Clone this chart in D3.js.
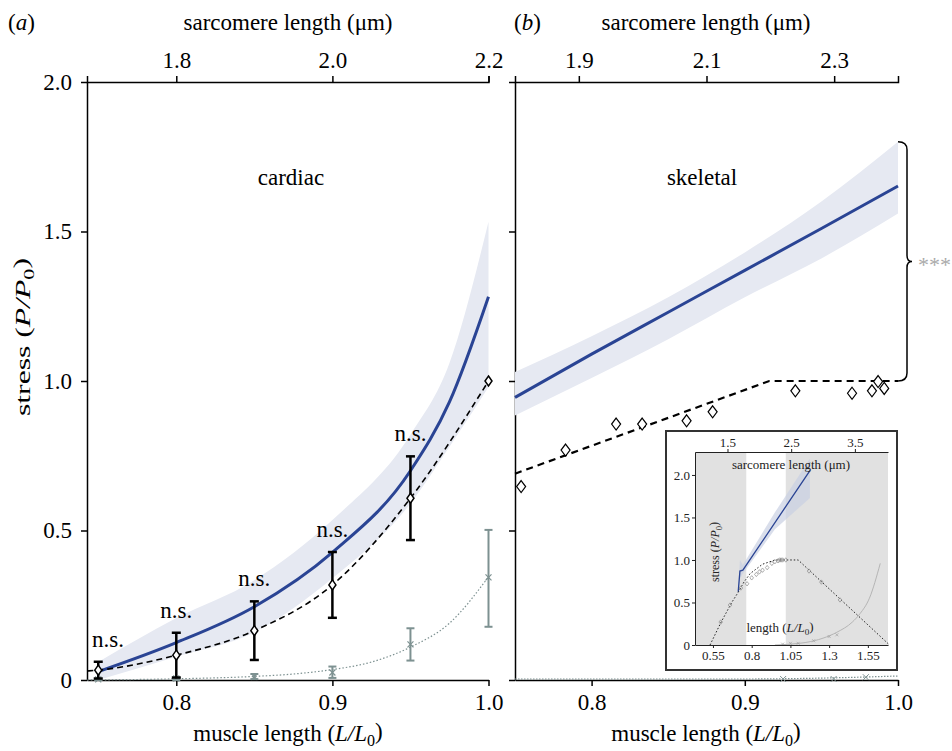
<!DOCTYPE html>
<html>
<head>
<meta charset="utf-8">
<script src="https://cdn.jsdelivr.net/npm/d3@7"></script>
<style>
  body { margin: 0; background: #fff; }
  svg text { font-family: "Liberation Serif", "Tinos", "Times New Roman", "Nimbus Roman", "DejaVu Serif", serif; }
</style>
</head>
<body>
<div id="chart"></div>
<script>
// ---- cardiac (panel a) ----
const cardiacL = [0.75, 0.8, 0.85, 0.9, 0.95, 1.0];
const cardiacActive = [0.033, 0.083, 0.165, 0.318, 0.608, 1.0];
const cardiacActiveErr = [0.028, 0.075, 0.098, 0.11, 0.14, 0];
const cardiacPassive = [0.002, 0.005, 0.011, 0.025, 0.119, 0.343];
const cardiacPassiveLo = [0, 0, 0.003, 0.007, 0.065, 0.178];
const cardiacPassiveHi = [0.004, 0.01, 0.02, 0.045, 0.173, 0.502];
const cardiacFitL = [0.743, 0.75, 0.8, 0.85, 0.9, 0.95, 1.0];
const cardiacFit = [0.03, 0.033, 0.083, 0.165, 0.318, 0.608, 1.0];
const cardiacModelL = [0.75, 0.8, 0.85, 0.9, 0.95, 0.975, 1.0];
const cardiacModel = [0.028, 0.125, 0.245, 0.427, 0.70, 0.93, 1.282];
const cardiacModelLo = [0.0, 0.078, 0.16, 0.34, 0.59, 0.78, 0.98];
const cardiacModelHi = [0.06, 0.207, 0.334, 0.535, 0.82, 1.06, 1.533];
const cardiacPassiveFitL = [0.743, 0.8, 0.85, 0.875, 0.9, 0.925, 0.95, 0.975, 1.0];
const cardiacPassiveFit = [0.0, 0.004, 0.012, 0.02, 0.035, 0.06, 0.11, 0.19, 0.345];
const nsLabels = ["n.s.", "n.s.", "n.s.", "n.s.", "n.s."];

// ---- skeletal (panel b) ----
const skeletalDataL = [0.754, 0.783, 0.816, 0.833, 0.862, 0.879, 0.933, 0.970, 0.983, 0.987, 0.991];
const skeletalData = [0.647, 0.769, 0.856, 0.856, 0.867, 0.897, 0.967, 0.959, 0.967, 0.998, 0.975];
const skeletalFitL = [0.75, 0.916, 1.0];
const skeletalFit = [0.69, 1.0, 1.0];
const skeletalModelL = [0.75, 0.8, 0.85, 0.9, 0.95, 1.0];
const skeletalModel = [0.945, 1.09, 1.23, 1.37, 1.51, 1.652];
const skeletalModelLo = [0.885, 1.01, 1.14, 1.28, 1.41, 1.56];
const skeletalModelHi = [1.03, 1.15, 1.28, 1.43, 1.60, 1.80];
const skeletalPassiveL = [0.75, 0.9, 0.95, 1.0];
const skeletalPassive = [0.0, 0.0, 0.003, 0.01];
const skeletalPassiveMarkL = [0.925, 0.958, 0.979];
const skeletalPassiveMark = [0.0, 0.0, 0.006];
const bracketRange = [1.0, 1.8];

// ---- inset ----
const insetModelL = [0.713, 0.724, 0.743, 1.176];
const insetModel = [0.625, 0.87, 0.88, 2.05];
const insetBandL = [0.713, 0.724, 0.743, 0.95, 1.176];
const insetBandLo = [0.6, 0.78, 0.84, 1.36, 1.73];
const insetBandHi = [0.66, 1.0, 0.94, 1.56, 2.19];
const insetLTL = [0.531, 0.6, 0.671, 0.713, 0.75, 0.79, 0.87, 0.95, 1.1, 1.69];
const insetLT = [0, 0.26, 0.5, 0.62, 0.74, 0.84, 0.95, 1.0, 1.0, 0];
const insetPassiveL = [0.95, 1.05, 1.15, 1.26, 1.35, 1.45, 1.5, 1.56, 1.63];
const insetPassive = [0, 0.01, 0.03, 0.08, 0.15, 0.27, 0.37, 0.55, 0.96];
const insetDataL = [0.6, 0.66, 0.73, 0.77, 0.8, 0.83, 0.85, 0.87, 0.9, 0.93, 0.95, 0.97, 0.98, 0.99, 1.0, 1.02, 1.17, 1.25, 1.37];
const insetData = [0.27, 0.47, 0.67, 0.72, 0.79, 0.83, 0.86, 0.88, 0.91, 0.96, 0.98, 0.99, 1.0, 1.0, 1.0, 1.0, 0.87, 0.74, 0.53];
const insetPassiveDataL = [1.0, 1.05, 1.1, 1.2, 1.3, 1.35];
const insetPassiveData = [0.01, 0.02, 0.02, 0.05, 0.1, 0.12];
const insetGrey = [[0.434, 0.765], [1.02, 1.68]];

// ---- ticks ----
const stressTicks = [0, 0.5, 1.0, 1.5, 2.0];
const cardiacLTicks = [0.8, 0.9, 1.0];
const cardiacSLTicks = [1.8, 2.0, 2.2];
const skeletalLTicks = [0.8, 0.9, 1.0];
const skeletalSLTicks = [1.9, 2.1, 2.3];
const insetStressTicks = [0, 0.5, 1.0, 1.5, 2.0];
const insetLTicks = [0.55, 0.8, 1.05, 1.3, 1.55];
const insetSLTicks = [1.5, 2.5, 3.5];

const blue = "#2a4494";
const band = "#e6e9f2";
const passiveGrey = "#7d9191";
const serif = "'Liberation Serif', 'Tinos', 'Times New Roman', 'Nimbus Roman', 'DejaVu Serif', serif";
const fs = 23;

const svg = d3.select("#chart").append("svg")
  .attr("width", 952).attr("height", 751)
  .attr("font-family", serif);

const y = d3.scaleLinear().domain([0, 2]).range([680, 82]);

const xa = d3.scaleLinear().domain([0.7428, 1.0]).range([87, 488.5]);
const xaTop = d3.scaleLinear().domain([1.6856, 2.2]).range([87, 488.5]);
const xb = d3.scaleLinear().domain([0.75, 1.0]).range([515, 898]);
const xbTop = d3.scaleLinear().domain([1.8, 2.4]).range([515, 898]);

const diamond = (w, h) => `M0,${-h}L${w},0L0,${h}L${-w},0Z`;
const zip = (a, b) => a.map((d, i) => [d, b[i]]);

function styleAxis(g, size) {
  g.selectAll("path, line").attr("stroke", "#000").attr("stroke-width", 1.5);
  g.selectAll("text").attr("font-size", size).attr("fill", "#000").attr("font-family", serif);
}

function subLabel(sel, pre, a, b) {
  // builds "pre (A/B0)" with italic letters and subscript
  sel.append("tspan").text(pre + " (");
  sel.append("tspan").attr("font-style", "italic").text(a + "/" + b);
  sel.append("tspan").attr("font-size", "70%").attr("dy", "0.3em").text("0");
  sel.append("tspan").attr("dy", "-0.3em").text(")");
}

function drawAxes(x, xTop, lTicks, slTicks, showY) {
  const bottom = svg.append("g").attr("transform", "translate(0,680)")
    .call(d3.axisBottom(x).tickValues(lTicks).tickFormat(d3.format(".1f")).tickSize(6).tickSizeOuter(0).tickPadding(8));
  styleAxis(bottom, fs);
  const top = svg.append("g").attr("transform", "translate(0,82)")
    .call(d3.axisTop(xTop).tickValues(slTicks).tickFormat(d3.format(".1f")).tickSize(6).tickSizeOuter(6).tickPadding(8));
  styleAxis(top, fs);
  const left = svg.append("g").attr("transform", `translate(${x.range()[0]},0)`)
    .call(d3.axisLeft(y).tickValues(stressTicks).tickSize(6).tickSizeOuter(0).tickPadding(9)
      .tickFormat(d => showY ? (d === 0 ? "0" : d3.format(".1f")(d)) : ""));
  styleAxis(left, fs);
}

// ---------- panel a: cardiac ----------
drawAxes(xa, xaTop, cardiacLTicks, cardiacSLTicks, true);

svg.append("path")
  .datum(cardiacModelL.map((d, i) => ({ l: d, lo: cardiacModelLo[i], hi: cardiacModelHi[i] })))
  .attr("fill", band)
  .attr("d", d3.area().curve(d3.curveMonotoneX).x(d => xa(d.l)).y0(d => y(d.lo)).y1(d => y(d.hi)));

svg.append("path")
  .datum(zip(cardiacPassiveFitL, cardiacPassiveFit))
  .attr("fill", "none").attr("stroke", passiveGrey).attr("stroke-width", 1.2)
  .attr("stroke-dasharray", "1.5,2")
  .attr("d", d3.line().curve(d3.curveMonotoneX).x(d => xa(d[0])).y(d => y(d[1])));

svg.append("path")
  .datum(zip(cardiacModelL, cardiacModel))
  .attr("fill", "none").attr("stroke", blue).attr("stroke-width", 3)
  .attr("d", d3.line().curve(d3.curveMonotoneX).x(d => xa(d[0])).y(d => y(d[1])));

svg.append("path")
  .datum(zip(cardiacFitL, cardiacFit))
  .attr("fill", "none").attr("stroke", "#000").attr("stroke-width", 1.6)
  .attr("stroke-dasharray", "6,4")
  .attr("d", d3.line().curve(d3.curveMonotoneX).x(d => xa(d[0])).y(d => y(d[1])));

// passive error bars + crosses
const passG = svg.append("g").attr("stroke", passiveGrey).attr("stroke-width", 2);
cardiacL.forEach((l, i) => {
  const cx = xa(l);
  passG.append("line").attr("x1", cx).attr("x2", cx).attr("y1", y(cardiacPassiveLo[i])).attr("y2", y(cardiacPassiveHi[i]));
  [cardiacPassiveLo[i], cardiacPassiveHi[i]].forEach(v => {
    passG.append("line").attr("x1", cx - 4).attr("x2", cx + 4).attr("y1", y(v)).attr("y2", y(v));
  });
  const py = y(cardiacPassive[i]);
  passG.append("path").attr("stroke-width", 1.2)
    .attr("d", `M${cx - 3},${py - 3}L${cx + 3},${py + 3}M${cx - 3},${py + 3}L${cx + 3},${py - 3}`);
});

// active error bars, diamonds, n.s.
const actG = svg.append("g");
cardiacL.forEach((l, i) => {
  const cx = xa(l);
  const e = cardiacActiveErr[i];
  if (e > 0) {
    const lo = y(cardiacActive[i] - e), hi = y(cardiacActive[i] + e);
    actG.append("line").attr("x1", cx).attr("x2", cx).attr("y1", lo).attr("y2", hi)
      .attr("stroke", "#000").attr("stroke-width", 2.5);
    [lo, hi].forEach(v => actG.append("line").attr("x1", cx - 4.5).attr("x2", cx + 4.5)
      .attr("y1", v).attr("y2", v).attr("stroke", "#000").attr("stroke-width", 2.5));
  }
  actG.append("path").attr("transform", `translate(${cx},${y(cardiacActive[i])})`)
    .attr("d", diamond(3.5, 5)).attr("fill", "#fff").attr("stroke", "#000").attr("stroke-width", 1.5);
  if (i < nsLabels.length) {
    actG.append("text").attr("x", Math.max(cx, xa.range()[0] + 21)).attr("y", y(cardiacActive[i] + e) - 15)
      .attr("text-anchor", "middle").attr("font-size", 23).text(nsLabels[i]);
  }
});

svg.append("text").attr("x", 291).attr("y", 185).attr("text-anchor", "middle")
  .attr("font-size", fs).text("cardiac");

// ---------- panel b: skeletal ----------
drawAxes(xb, xbTop, skeletalLTicks, skeletalSLTicks, false);

svg.append("path")
  .datum(skeletalModelL.map((d, i) => ({ l: d, lo: skeletalModelLo[i], hi: skeletalModelHi[i] })))
  .attr("fill", band)
  .attr("d", d3.area().curve(d3.curveMonotoneX).x(d => xb(d.l)).y0(d => y(d.lo)).y1(d => y(d.hi)));

svg.append("path")
  .datum(zip(skeletalModelL, skeletalModel))
  .attr("fill", "none").attr("stroke", blue).attr("stroke-width", 3)
  .attr("d", d3.line().curve(d3.curveMonotoneX).x(d => xb(d[0])).y(d => y(d[1])));

svg.append("path")
  .datum(zip(skeletalFitL, skeletalFit))
  .attr("fill", "none").attr("stroke", "#000").attr("stroke-width", 2.2)
  .attr("stroke-dasharray", "7,5")
  .attr("d", d3.line().x(d => xb(d[0])).y(d => y(d[1])));

svg.append("g").selectAll("path").data(zip(skeletalDataL, skeletalData)).join("path")
  .attr("transform", d => `translate(${xb(d[0])},${y(d[1])})`)
  .attr("d", diamond(4.5, 6)).attr("fill", "#fff").attr("stroke", "#000").attr("stroke-width", 1.2);

svg.append("path")
  .datum(zip(skeletalPassiveL, skeletalPassive))
  .attr("fill", "none").attr("stroke", passiveGrey).attr("stroke-width", 1.2)
  .attr("stroke-dasharray", "1.5,1.5")
  .attr("d", d3.line().curve(d3.curveMonotoneX).x(d => xb(d[0])).y(d => y(d[1]) - 1));
svg.append("g").attr("stroke", passiveGrey).attr("stroke-width", 1)
  .selectAll("path").data(zip(skeletalPassiveMarkL, skeletalPassiveMark)).join("path")
  .attr("d", d => {
    const cx = xb(d[0]), cy = y(d[1]) - 1;
    return `M${cx - 3},${cy - 3}L${cx + 3},${cy + 3}M${cx - 3},${cy + 3}L${cx + 3},${cy - 3}`;
  });

// bracket
const bTop = y(bracketRange[1]), bBot = y(bracketRange[0]), bMid = (bTop + bBot) / 2;
svg.append("path").attr("fill", "none").attr("stroke", "#000").attr("stroke-width", 1.5)
  .attr("d", `M898,${bTop} Q907,${bTop} 907,${bTop + 8} L907,${bMid - 6} Q907,${bMid} 912,${bMid}` +
    ` Q907,${bMid} 907,${bMid + 6} L907,${bBot - 8} Q907,${bBot} 898,${bBot}`);
svg.append("text").attr("x", 918).attr("y", bMid + 11).attr("font-size", 22)
  .attr("fill", "#aaaaaa").text("***");

svg.append("text").attr("x", 702).attr("y", 185).attr("text-anchor", "middle")
  .attr("font-size", fs).text("skeletal");

// ---------- titles and axis labels ----------
svg.append("text").attr("x", 8).attr("y", 30).attr("font-size", fs)
  .call(t => { t.append("tspan").text("("); t.append("tspan").attr("font-style", "italic").text("a"); t.append("tspan").text(")"); });
svg.append("text").attr("x", 514).attr("y", 30).attr("font-size", fs)
  .call(t => { t.append("tspan").text("("); t.append("tspan").attr("font-style", "italic").text("b"); t.append("tspan").text(")"); });

[288, 706].forEach(cx => {
  svg.append("text").attr("x", cx).attr("y", 30).attr("text-anchor", "middle")
    .attr("font-size", fs).text("sarcomere length (\u03bcm)");
  svg.append("text").attr("x", cx).attr("y", 741).attr("text-anchor", "middle")
    .attr("font-size", fs).call(t => subLabel(t, "muscle length", "L", "L"));
});

svg.append("text").attr("transform", "translate(30,337) rotate(-90)")
  .attr("text-anchor", "middle").attr("font-size", 21)
  .attr("textLength", 158).attr("lengthAdjust", "spacingAndGlyphs")
  .call(t => subLabel(t, "stress", "P", "P"));

// ---------- inset ----------
const ix = d3.scaleLinear().domain([0.434, 1.68]).range([695, 888]);
const ixTop = d3.scaleLinear().domain([0.99, 4.02]).range([695, 888]);
const iy = d3.scaleLinear().domain([0, 2.27]).range([645, 452]);
const inset = svg.append("g");

inset.append("rect").attr("x", 666).attr("y", 431).attr("width", 231).attr("height", 239)
  .attr("fill", "#fff").attr("stroke", "#333").attr("stroke-width", 2);

inset.selectAll("rect.grey").data(insetGrey).join("rect").attr("class", "grey")
  .attr("x", d => ix(d[0])).attr("width", d => ix(Math.min(d[1], 1.68)) - ix(d[0]))
  .attr("y", iy(2.27)).attr("height", iy(0) - iy(2.27)).attr("fill", "#e1e1e1");

inset.append("path")
  .datum(insetBandL.map((d, i) => ({ l: d, lo: insetBandLo[i], hi: insetBandHi[i] })))
  .attr("fill", "#c9d0e2").attr("opacity", 0.7)
  .attr("d", d3.area().x(d => ix(d.l)).y0(d => iy(d.lo)).y1(d => iy(d.hi)));

inset.append("path").datum(zip(insetModelL, insetModel))
  .attr("fill", "none").attr("stroke", blue).attr("stroke-width", 1.3)
  .attr("d", d3.line().x(d => ix(d[0])).y(d => iy(d[1])));

inset.append("path").datum(zip(insetPassiveL, insetPassive))
  .attr("fill", "none").attr("stroke", "#b5b5b5").attr("stroke-width", 1)
  .attr("d", d3.line().curve(d3.curveMonotoneX).x(d => ix(d[0])).y(d => iy(d[1])));

inset.append("path").datum(zip(insetLTL, insetLT))
  .attr("fill", "none").attr("stroke", "#222").attr("stroke-width", 1)
  .attr("stroke-dasharray", "1.5,2")
  .attr("d", d3.line().x(d => ix(d[0])).y(d => iy(d[1])));

inset.append("g").selectAll("path").data(zip(insetDataL, insetData)).join("path")
  .attr("transform", d => `translate(${ix(d[0])},${iy(d[1])})`)
  .attr("d", diamond(1.8, 2.2)).attr("fill", "none").attr("stroke", "#8a8a8a").attr("stroke-width", 0.7);
inset.append("g").selectAll("path").data(zip(insetPassiveDataL, insetPassiveData)).join("path")
  .attr("transform", d => `translate(${ix(d[0])},${iy(d[1])})`)
  .attr("d", "M-1.5,-1.5L1.5,1.5M-1.5,1.5L1.5,-1.5").attr("stroke", "#a0a0a0").attr("stroke-width", 0.7);

function styleInset(g) {
  g.selectAll("path, line").attr("stroke", "#222").attr("stroke-width", 1);
  g.selectAll("text").attr("font-size", 13).attr("fill", "#222").attr("font-family", serif);
}
styleInset(inset.append("g").attr("transform", "translate(0,645)")
  .call(d3.axisBottom(ix).tickValues(insetLTicks).tickFormat(d => String(d)).tickSize(3).tickSizeOuter(0).tickPadding(3)));
styleInset(inset.append("g").attr("transform", "translate(0,452)")
  .call(d3.axisTop(ixTop).tickValues(insetSLTicks).tickFormat(d3.format(".1f")).tickSize(3).tickSizeOuter(0).tickPadding(2)));
styleInset(inset.append("g").attr("transform", "translate(695,0)")
  .call(d3.axisLeft(iy).tickValues(insetStressTicks).tickSize(3).tickSizeOuter(0).tickPadding(2)
    .tickFormat(d => d === 0 ? "0" : d3.format(".1f")(d))));

inset.append("text").attr("x", 791).attr("y", 469).attr("text-anchor", "middle")
  .attr("font-size", 13).attr("fill", "#222").text("sarcomere length (\u03bcm)");
inset.append("text").attr("x", 780).attr("y", 632).attr("text-anchor", "middle")
  .attr("font-size", 13).attr("fill", "#222").call(t => subLabel(t, "length", "L", "L"));
inset.append("text").attr("transform", "translate(719,552) rotate(-90)").attr("text-anchor", "middle")
  .attr("font-size", 13).attr("fill", "#222")
  .attr("textLength", 60).attr("lengthAdjust", "spacingAndGlyphs")
  .call(t => subLabel(t, "stress", "P", "P"));
</script>
</body>
</html>
